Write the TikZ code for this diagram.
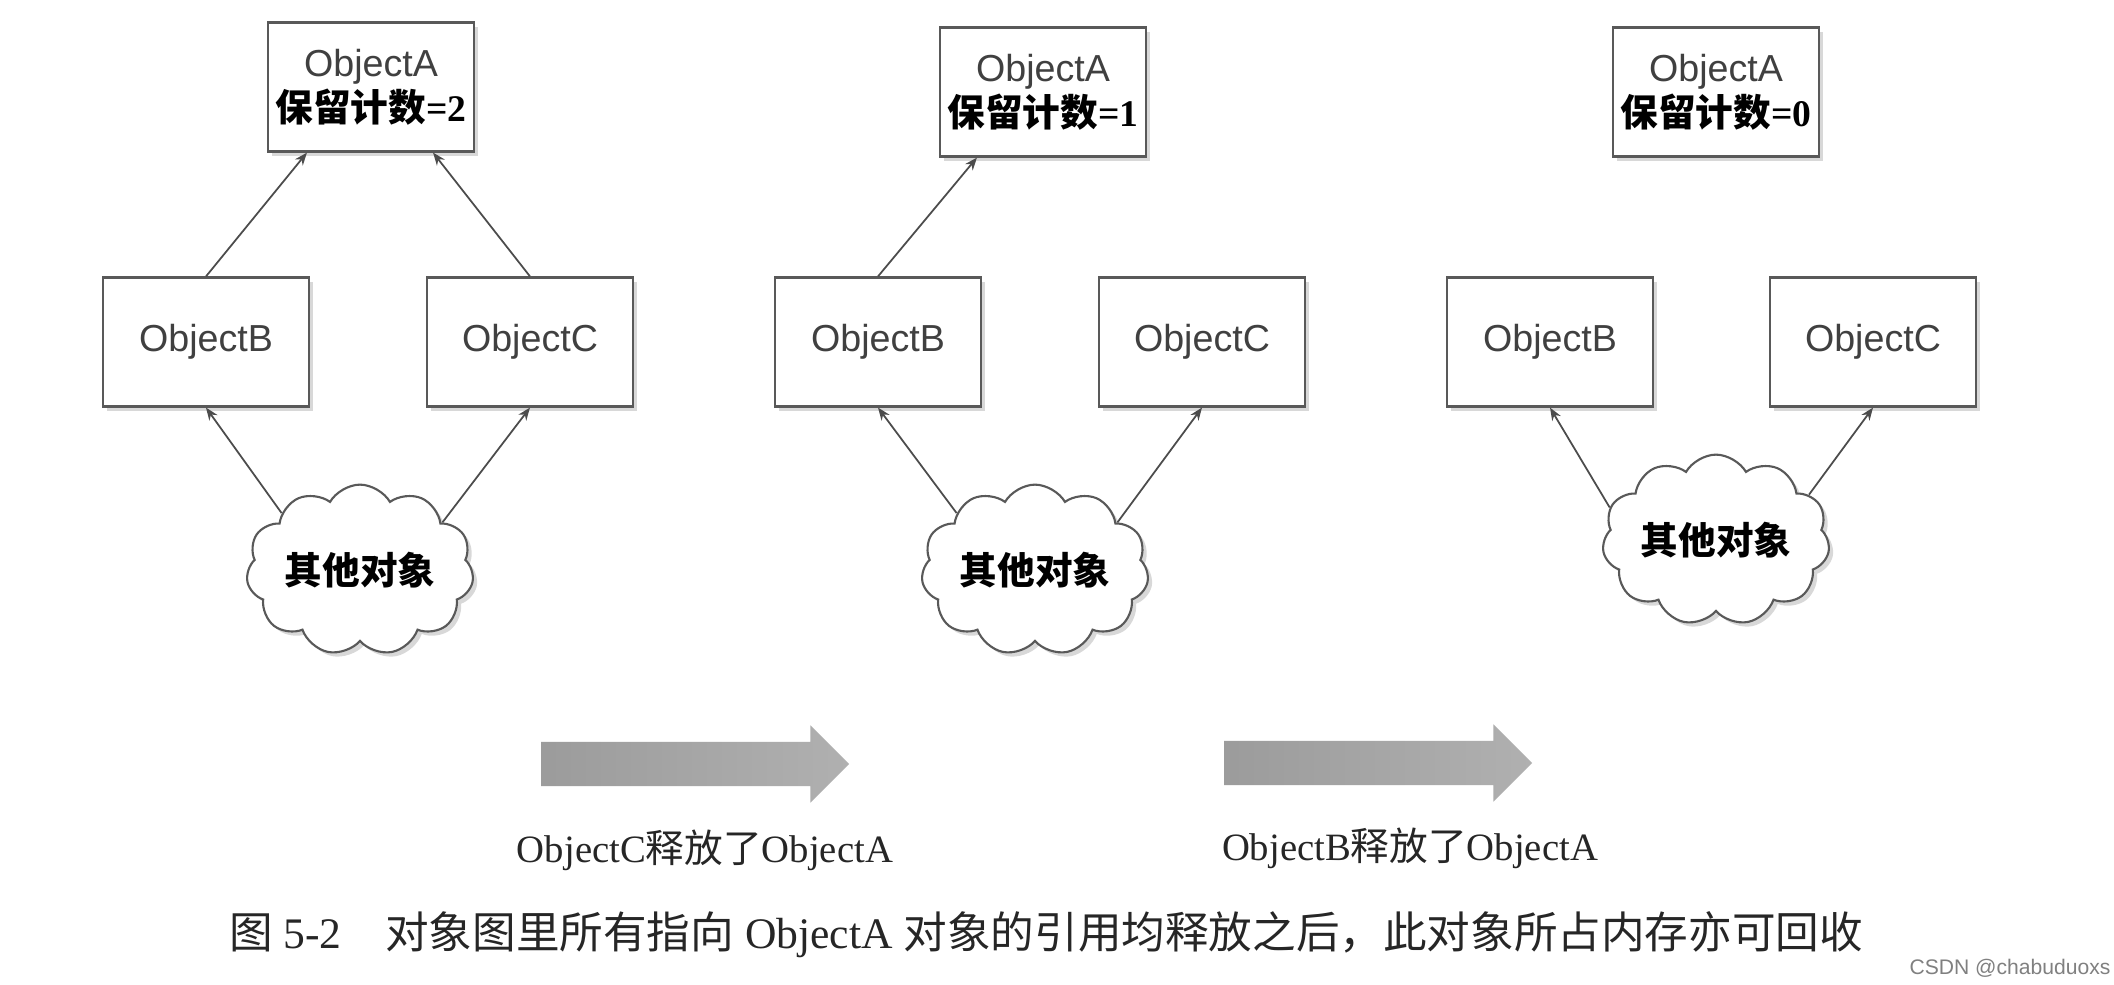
\documentclass[tikz,border=0pt]{standalone}
\usepackage{fontspec}
\setmainfont{Liberation Serif}
\setsansfont{Liberation Sans}
\newfontfamily\cjk{Noto Sans CJK SC}
\usetikzlibrary{arrows.meta, shapes.symbols, shapes.arrows, shadows, calc}

\newcommand{\retain}[1]{{\cjk\bfseries 保留计数}{\rmfamily\bfseries =#1}}

\begin{document}
\begin{tikzpicture}[
  x=0.01cm, y=-0.01cm,
  obj/.style={draw=black!65, line width=0.6pt, fill=white, text=black!75, minimum width=2.06cm, minimum height=1.29cm, inner sep=0pt, align=center, font=\sffamily\fontsize{10.7}{12.8}\selectfont, drop shadow={shadow xshift=1.2pt, shadow yshift=-1.2pt, opacity=0.3}},
  blob/.style={cloud, cloud puffs=11, cloud puff arc=120, aspect=1.5, draw=black!65, line width=0.6pt, fill=white, minimum width=2.24cm, minimum height=1.5cm, inner sep=0pt, font=\cjk\bfseries\fontsize{10.7}{12.8}\selectfont, drop shadow={shadow xshift=1.2pt, shadow yshift=-1.2pt, opacity=0.3}},
  ref/.style={-{Stealth[length=3.6pt, width=2.8pt]}, draw=black!70, line width=0.5pt},
  release/.style={single arrow, single arrow head extend=0.165cm, minimum height=3.08cm, inner xsep=0pt, inner ysep=0.215cm, left color=gray!78, right color=gray!62, draw=none},
  lbl/.style={font=\fontsize{11}{13}\selectfont, text=black!85}
]
  \fill[white] (0,0) rectangle (2114,984);
  \useasboundingbox (0,0) rectangle (2114,984);

  % Panel 1: count 2
  \node[obj] (A1) at (371,87) {ObjectA\\\textcolor{black}{\retain{2}}};
  \node[obj] (B1) at (206,342) {ObjectB};
  \node[obj] (C1) at (530,342) {ObjectC};
  \node[blob] (O1) at (360,570) {其他对象};
  \draw[ref] (B1.north) -- ([xshift=-0.64cm]A1.south);
  \draw[ref] (C1.north) -- ([xshift=0.62cm]A1.south);
  \draw[ref] (O1.144) -- (B1.south);
  \draw[ref] (O1.30) -- (C1.south);

  % Panel 2: count 1
  \node[obj] (A2) at (1043,92) {ObjectA\\\textcolor{black}{\retain{1}}};
  \node[obj] (B2) at (878,342) {ObjectB};
  \node[obj] (C2) at (1202,342) {ObjectC};
  \node[blob] (O2) at (1035,570) {其他对象};
  \draw[ref] (B2.north) -- ([xshift=-0.66cm]A2.south);
  \draw[ref] (O2.144) -- (B2.south);
  \draw[ref] (O2.30) -- (C2.south);

  % Panel 3: count 0
  \node[obj] (A3) at (1716,92) {ObjectA\\\textcolor{black}{\retain{0}}};
  \node[obj] (B3) at (1550,342) {ObjectB};
  \node[obj] (C3) at (1873,342) {ObjectC};
  \node[blob] (O3) at (1716,540) {其他对象};
  \draw[ref] (O3.163) -- (B3.south);
  \draw[ref] (O3.26) -- (C3.south);

  % Release steps
  \node[release] (R1) at (684,764) {};
  \node[release] (R2) at (1367,763) {};
  \node[lbl] (L1) at (705,850) {ObjectC{\cjk 释放了}ObjectA};
  \node[lbl] (L2) at (1410,848) {ObjectB{\cjk 释放了}ObjectA};

  % Caption
  \node[font=\fontsize{12.4}{15}\selectfont, text=black!85] (cap) at (1046,935) {{\cjk 图} 5-2\quad{\cjk 对象图里所有指向} ObjectA {\cjk 对象的引用均释放之后，此对象所占内存亦可回收}};
  \node[font=\sffamily\fontsize{6}{7}\selectfont, text=gray] (mark) at (2010,968) {CSDN @chabuduoxs};

\end{tikzpicture}
\end{document}
